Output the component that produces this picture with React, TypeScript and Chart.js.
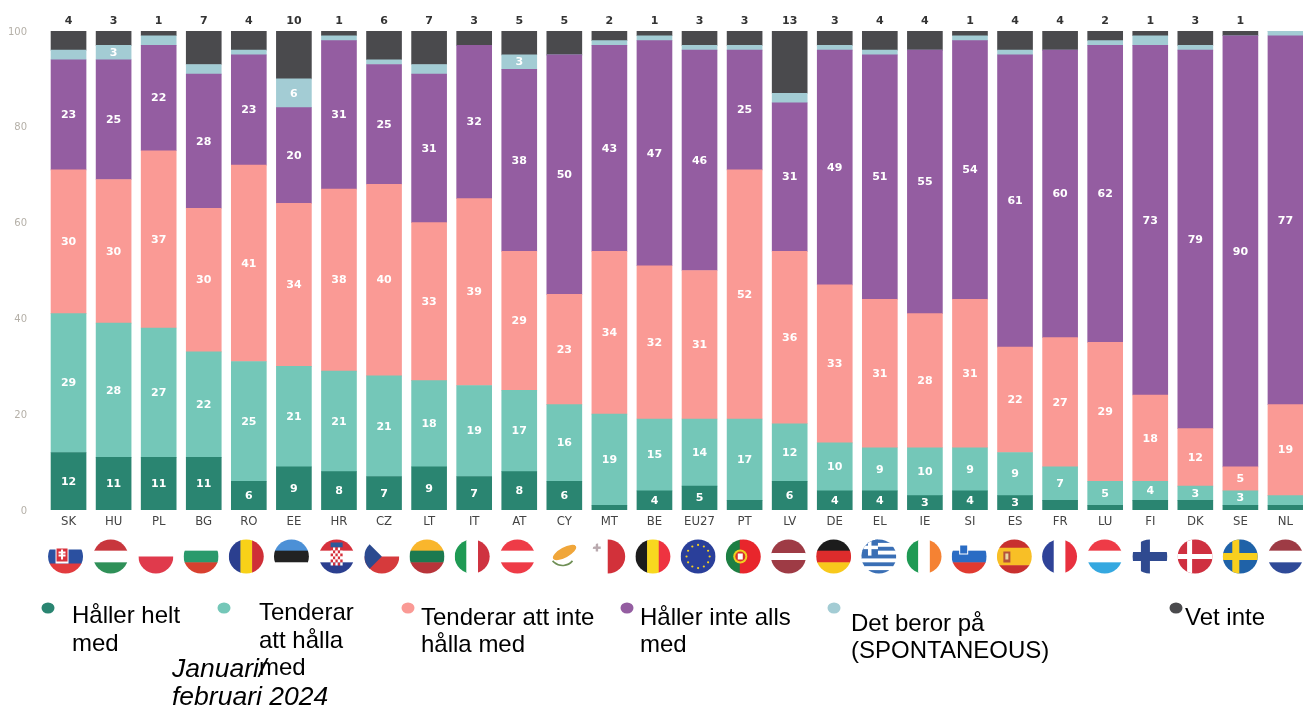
import React, { useEffect, useRef } from "react";
import { Chart, registerables } from "chart.js";

Chart.register(...registerables);

const countries = ["SK","HU","PL","BG","RO","EE","HR","CZ","LT","IT","AT","CY","MT","BE","EU27","PT","LV","DE","EL","IE","SI","ES","FR","LU","FI","DK","SE","NL"];
const halleHelt =    [12,11,11,11,6,9,8,7,9,7,8,6,1,4,5,2,6,4,4,3,4,3,2,1,2,2,1,1];
const tenderarHalla =[29,28,27,22,25,21,21,21,18,19,17,16,19,15,14,17,12,10,9,10,9,9,7,5,4,3,3,2];
const tenderarInte = [30,30,37,30,41,34,38,40,33,39,29,23,34,32,31,52,36,33,31,28,31,22,27,29,18,12,5,19];
const halleInte =    [23,25,22,28,23,20,31,25,31,32,38,50,43,47,46,25,31,49,51,55,54,61,60,62,73,79,90,77];
const beror =        [2,3,2,2,1,6,1,1,2,0,3,0,1,1,1,1,2,1,1,0,1,1,0,1,2,1,0,1];
const vetInte =      [4,3,1,7,4,10,1,6,7,3,5,5,2,1,3,3,13,3,4,4,1,4,4,2,1,3,1,0];

const seriesNames = ["Håller helt med","Tenderar att hålla med","Tenderar att inte hålla med","Håller inte alls med","Det beror på (SPONTANEOUS)","Vet inte"];
const seriesValues = [halleHelt,tenderarHalla,tenderarInte,halleInte,beror,vetInte];
const seriesColors = ["#2a8571","#74c7b8","#fa9a95","#945da1","#a3ccd4","#4a4a4d"];
const yTicks = [0,20,40,60,80,100];

const legendLines = [["Håller helt","med"],["Tenderar","att hålla","med"],["Tenderar att inte","hålla med"],["Håller inte alls","med"],["Det beror på","(SPONTANEOUS)"],["Vet inte"]];
const dateLines = ["Januari/","februari 2024"];

const legendLayout = [
  { dx: 48, dy: 608, tx: 72, ty: 623 },
  { dx: 224, dy: 608, tx: 259, ty: 620 },
  { dx: 408, dy: 608, tx: 421, ty: 624.5 },
  { dx: 627, dy: 608, tx: 640, ty: 624.5 },
  { dx: 834, dy: 608, tx: 851, ty: 630.5 },
  { dx: 1176, dy: 608, tx: 1185, ty: 624.5 },
];

type Flag = { dir: "h" | "v"; c: string[]; w?: number[] };
const W = "#ffffff";
const flagDesigns: Record<string, Flag> = {
  SK: { dir: "h", c: [W, "#2b50a0", "#e23b3e"], w: [3, 4, 3] },
  HU: { dir: "h", c: ["#c8363d", W, "#2f9058"] },
  PL: { dir: "h", c: [W, "#e03a4c"] },
  BG: { dir: "h", c: [W, "#2a9a6c", "#d8402f"] },
  RO: { dir: "v", c: ["#2b3f8f", "#f8d118", "#cf2f37"] },
  EE: { dir: "h", c: ["#4c90d6", "#222222", W] },
  HR: { dir: "h", c: ["#d6313c", W, "#2b3f8f"] },
  CZ: { dir: "h", c: [W, "#d63a3c"] },
  LT: { dir: "h", c: ["#f9b62c", "#1c7a50", "#b8343a"] },
  IT: { dir: "v", c: ["#1f9a54", W, "#cf3340"] },
  AT: { dir: "h", c: ["#ee3b47", W, "#ee3b47"] },
  CY: { dir: "h", c: [W] },
  MT: { dir: "v", c: [W, "#d2313a"] },
  BE: { dir: "v", c: ["#1c1c1c", "#f8d81f", "#ee3340"] },
  EU27: { dir: "h", c: ["#2a3f9a"] },
  PT: { dir: "v", c: ["#1d7f43", "#e8262c"], w: [2, 3] },
  LV: { dir: "h", c: ["#9e3b45", W, "#9e3b45"], w: [2, 1, 2] },
  DE: { dir: "h", c: ["#1c1c1c", "#dd2c2c", "#f8c91c"] },
  EL: { dir: "h", c: ["#3a6fb5", W, "#3a6fb5", W, "#3a6fb5", W, "#3a6fb5", W, "#3a6fb5"] },
  IE: { dir: "v", c: ["#1f9a54", W, "#f58233"] },
  SI: { dir: "h", c: [W, "#2a6cc4", "#e03a30"] },
  ES: { dir: "h", c: ["#c8302f", "#f8bf26", "#c8302f"], w: [1, 2, 1] },
  FR: { dir: "v", c: ["#2f4398", W, "#e8313f"] },
  LU: { dir: "h", c: ["#ee3b47", W, "#35a8e0"] },
  FI: { dir: "h", c: [W] },
  DK: { dir: "h", c: ["#cf3040"] },
  SE: { dir: "h", c: ["#1f62a8"] },
  NL: { dir: "h", c: ["#9e3b45", W, "#2f4a98"] },
};

function drawDetail(ctx: CanvasRenderingContext2D, code: string, x: number, y: number, r: number) {
  const rect = (c: string, a: number, b: number, w: number, h: number) => {
    ctx.fillStyle = c;
    ctx.fillRect(a, b, w, h);
  };
  const disc = (c: string, a: number, b: number, rad: number) => {
    ctx.fillStyle = c;
    ctx.beginPath();
    ctx.arc(a, b, rad, 0, Math.PI * 2);
    ctx.fill();
  };
  if (code === "SK") {
    rect(W, x - 10, y - 9, 13, 16);
    rect("#d8323c", x - 9, y - 8, 11, 13);
    rect(W, x - 4.5, y - 7, 2, 10);
    rect(W, x - 7, y - 5, 7, 2);
    rect(W, x - 7, y - 2, 7, 2);
  } else if (code === "HR") {
    rect("#2b5a9a", x - 6, y - 14, 12, 5);
    for (let i = 0; i < 5; i++) for (let j = 0; j < 6; j++) rect((i + j) % 2 ? W : "#d6313c", x - 6 + i * 2.4, y - 9 + j * 3, 2.4, 3);
  } else if (code === "CZ") {
    ctx.fillStyle = "#2b4a8f";
    ctx.beginPath();
    ctx.moveTo(x - r, y - r);
    ctx.lineTo(x, y);
    ctx.lineTo(x - r, y + r);
    ctx.fill();
  } else if (code === "CY") {
    ctx.fillStyle = "#f0a63a";
    ctx.beginPath();
    ctx.ellipse(x + 2, y - 4, 13, 5, -0.5, 0, Math.PI * 2);
    ctx.fill();
    ctx.strokeStyle = "#6f8f55";
    ctx.lineWidth = 1.6;
    ctx.beginPath();
    ctx.arc(x, y - 4, 13, 0.7, Math.PI - 0.7);
    ctx.stroke();
  } else if (code === "MT") {
    rect("#b9a9ae", x - 12, y - 13, 2.4, 8);
    rect("#b9a9ae", x - 15, y - 10, 8, 2.4);
  } else if (code === "EU27") {
    for (let i = 0; i < 12; i++) {
      const a = (i * Math.PI) / 6;
      disc("#f5d020", x + Math.cos(a) * r * 0.66, y + Math.sin(a) * r * 0.66, 1.1);
    }
  } else if (code === "PT") {
    disc("#f0d020", x - 3, y, 7);
    disc("#d8322c", x - 3, y, 5);
    rect(W, x - 5.5, y - 3, 5, 6);
  } else if (code === "EL") {
    rect("#3a6fb5", x - r, y - r, r * 0.95, r * 0.95);
    rect(W, x - r, y - r * 0.62, r * 0.95, r * 0.2);
    rect(W, x - r * 0.62, y - r, r * 0.2, r * 0.95);
  } else if (code === "SI") {
    rect(W, x - 10, y - 12, 9, 10);
    rect("#2a6cc4", x - 9, y - 11, 7, 8);
  } else if (code === "ES") {
    rect("#b5533a", x - 11, y - 5, 7, 11);
    rect("#e8d7a0", x - 9, y - 3, 3, 6);
  } else if (code === "FI") {
    rect("#2f4a90", x - 9, y - r, 9, r * 2);
    rect("#2f4a90", x - r, y - 4.5, r * 2, 9);
  } else if (code === "DK") {
    rect(W, x - 8, y - r, 5, r * 2);
    rect(W, x - r, y - 2.5, r * 2, 5);
  } else if (code === "SE") {
    rect("#f8cf1e", x - 8, y - r, 7, r * 2);
    rect("#f8cf1e", x - r, y - 3.5, r * 2, 7);
  }
}

const annotate = {
  id: "annotate",
  afterDraw(chart: any) {
    const ctx: CanvasRenderingContext2D = chart.ctx;
    const xs = chart.scales.x;
    const ys = chart.scales.y;
    ctx.save();
    ctx.textAlign = "center";
    ctx.textBaseline = "middle";
    // Values inside the segments
    ctx.fillStyle = "#ffffff";
    ctx.font = "bold 11px 'DejaVu Sans'";
    seriesValues.forEach((vals, s) => {
      if (s === 5) return;
      const meta = chart.getDatasetMeta(s);
      vals.forEach((v, i) => {
        if (v < 3) return;
        const el = meta.data[i];
        ctx.fillText(String(v), el.x, (el.y + el.base) / 2 + 0.5);
      });
    });
    // "Vet inte" value above each bar
    ctx.fillStyle = "#333333";
    vetInte.forEach((v, i) => {
      if (v > 0) ctx.fillText(String(v), xs.getPixelForValue(i), ys.getPixelForValue(100) - 10);
    });
    // Flags
    countries.forEach((code, i) => {
      const x = xs.getPixelForValue(i) - 3 + (i * 3) / 27;
      const y = 556.5;
      const r = 17.5;
      const f = flagDesigns[code];
      const w = f.w || f.c.map(() => 1);
      const total = w.reduce((a, b) => a + b, 0);
      ctx.save();
      ctx.beginPath();
      ctx.ellipse(x, y, r, 17, 0, 0, Math.PI * 2);
      ctx.clip();
      let pos = 0;
      f.c.forEach((c, k) => {
        const size = (w[k] / total) * r * 2;
        ctx.fillStyle = c;
        if (f.dir === "h") ctx.fillRect(x - r, y - r + pos, r * 2, size + 0.5);
        else ctx.fillRect(x - r + pos, y - r, size + 0.5, r * 2);
        pos += size;
      });
      drawDetail(ctx, code, x, y, r);
      ctx.restore();
    });
    // Legend
    ctx.textAlign = "left";
    ctx.textBaseline = "alphabetic";
    legendLines.forEach((lines, s) => {
      const p = legendLayout[s];
      ctx.fillStyle = seriesColors[s];
      ctx.beginPath();
      ctx.ellipse(p.dx, p.dy, 6.5, 5.5, 0, 0, Math.PI * 2);
      ctx.fill();
      ctx.fillStyle = "#000000";
      ctx.font = "24px 'Liberation Sans'";
      lines.forEach((t, l) => ctx.fillText(t, p.tx, p.ty + l * 27.5));
    });
    ctx.font = "italic 26.5px 'Liberation Sans'";
    ctx.fillStyle = "#000000";
    dateLines.forEach((t, l) => ctx.fillText(t, 172, 677 + l * 28));
    ctx.restore();
  },
};

export default function App() {
  const ref = useRef<HTMLCanvasElement>(null);
  useEffect(() => {
    const chart = new Chart(ref.current!, {
      type: "bar",
      data: {
        labels: countries,
        datasets: seriesNames.map((name, i) => ({
          label: name,
          data: seriesValues[i],
          backgroundColor: seriesColors[i],
          borderWidth: 0,
          barThickness: 35,
          stack: "s",
        })),
      },
      options: {
        responsive: false,
        animation: false,
        layout: { padding: { top: 31, left: 0, right: 12, bottom: 0 } },
        plugins: { legend: { display: false }, tooltip: { enabled: false }, title: { display: false } },
        scales: {
          x: {
            stacked: true,
            grid: { display: false, drawTicks: false },
            border: { display: false },
            afterFit(scale: any) { scale.height = 197; },
            ticks: {
              color: "#444444",
              padding: 4,
              autoSkip: false,
              maxRotation: 0,
              font: { size: 13, family: "'DejaVu Sans Condensed', 'DejaVu Sans'" },
            },
          },
          y: {
            stacked: true,
            min: 0,
            max: 100,
            grid: { display: false, drawTicks: false },
            border: { display: false },
            afterFit(scale: any) { scale.width = 46; },
            afterBuildTicks(scale: any) { scale.ticks = yTicks.map((value) => ({ value })); },
            ticks: {
              color: "#b5b0a8",
              padding: 19,
              labelOffset: 1,
              font: { size: 10, family: "'DejaVu Sans'" },
            },
          },
        },
      },
      plugins: [annotate],
    } as any);
    return () => chart.destroy();
  }, []);
  return (
    <div style={{ position: "fixed", left: 0, top: 0, width: 1303, height: 707, overflow: "hidden", background: "#fff" }}>
      <canvas ref={ref} width={1320} height={707} style={{ display: "block", filter: "blur(0.4px)" }} />
    </div>
  );
}
